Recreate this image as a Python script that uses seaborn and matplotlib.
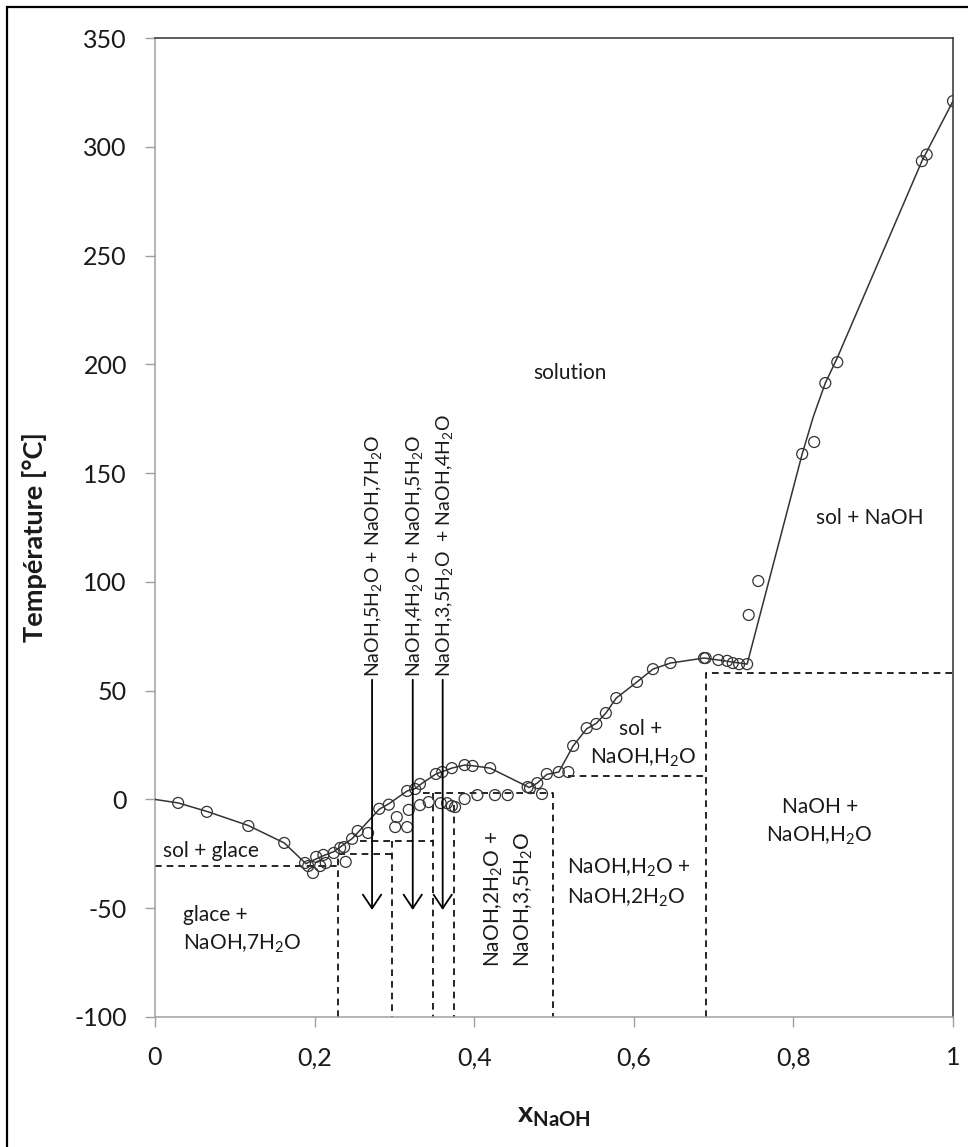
import matplotlib
matplotlib.use("Agg")
import matplotlib.pyplot as plt
from matplotlib.patches import Rectangle
import seaborn as sns
import pandas as pd

# Measured points: composition (mole fraction NaOH) and temperature (°C)
point_x = [0.029, 0.065, 0.117, 0.162,
           0.188, 0.192, 0.198, 0.202, 0.207, 0.211, 0.214, 0.224, 0.232, 0.237,
           0.239, 0.247, 0.254, 0.267, 0.281, 0.293, 0.303, 0.301, 0.316, 0.318,
           0.316, 0.326, 0.332, 0.332, 0.343, 0.352, 0.360, 0.358, 0.366, 0.372,
           0.372, 0.376, 0.388, 0.388, 0.398, 0.404, 0.420, 0.426, 0.442, 0.467,
           0.470, 0.479, 0.485, 0.491, 0.506, 0.518, 0.524, 0.541, 0.553, 0.565,
           0.578, 0.604, 0.624, 0.646, 0.688, 0.690, 0.706, 0.717, 0.724, 0.732,
           0.742, 0.744, 0.756, 0.811, 0.826, 0.840, 0.855, 0.961, 0.967, 1.000]
point_T = [-1.6, -5.7, -12.2, -20.0,
           -29.2, -30.6, -33.8, -26.4, -30.6, -25.5, -29.2, -24.6, -22.3, -21.9,
           -28.7, -18.1, -14.5, -15.4, -4.3, -2.4, -8.1, -12.7, -12.7, -4.8,
           3.9, 4.8, 7.1, -2.6, -1.2, 11.7, 12.6, -1.7, -1.7, -3.0,
           14.4, -3.5, 0.2, 15.8, 15.4, 2.0, 14.4, 2.0, 2.0, 5.7,
           5.2, 7.5, 2.5, 11.7, 12.6, 12.6, 24.6, 32.8, 34.7, 39.7,
           46.6, 54.0, 59.9, 62.7, 65.0, 65.0, 64.1, 63.7, 62.7, 62.2,
           62.2, 84.8, 100.4, 158.8, 164.3, 191.4, 201.0, 293.4, 296.4, 321.0]

# Liquidus curve
liquidus_x = [0.0, 0.029, 0.065, 0.117, 0.162, 0.189, 0.210, 0.224, 0.247, 0.256,
              0.281, 0.293, 0.316, 0.326, 0.335, 0.352, 0.372, 0.388, 0.398, 0.420,
              0.469, 0.479, 0.491, 0.506, 0.524, 0.541, 0.553, 0.565, 0.578, 0.604,
              0.624, 0.646, 0.688, 0.706, 0.742, 0.811, 0.825, 0.840, 0.855, 0.961,
              1.000]
liquidus_T = [0.0, -1.6, -5.5, -12.0, -20.0, -29.5, -26.0, -24.0, -18.0, -14.5,
              -4.5, -2.0, 3.9, 5.0, 7.5, 11.7, 14.4, 15.8, 15.5, 14.4,
              5.5, 7.5, 11.5, 12.6, 24.6, 32.5, 35.0, 39.7, 46.6, 54.0,
              59.9, 62.7, 65.0, 64.1, 62.2, 158.8, 176.0, 191.4, 203.0, 293.4,
              321.0]

# Phase boundaries (dashed): list of (compositions, temperatures)
boundaries = [
    ([0.0, 0.229], [-30.5, -30.5]),
    ([0.229, 0.229, 0.297], [-100, -25.2, -25.2]),
    ([0.257, 0.348], [-19.0, -19.0]),
    ([0.297, 0.297], [-19.0, -100]),
    ([0.336, 0.499, 0.499], [3.0, 3.0, -100]),
    ([0.348, 0.348], [3.0, -100]),
    ([0.375, 0.375], [-2.6, -100]),
    ([0.518, 0.690], [10.9, 10.9]),
    ([0.690, 0.690, 1.0], [-100, 58.0, 58.0]),
]

# Peritectic arrows: composition, label
arrow_x = [0.272, 0.323, 0.3605]
arrow_labels = ["NaOH,5H$_2$O + NaOH,7H$_2$O",
                "NaOH,4H$_2$O + NaOH,5H$_2$O",
                "NaOH,3,5H$_2$O  + NaOH,4H$_2$O"]
arrow_top = 55.0
arrow_bottom = -50.8

x_ticks = [0, 0.2, 0.4, 0.6, 0.8, 1.0]
x_tick_labels = ["0", "0,2", "0,4", "0,6", "0,8", "1"]
y_ticks = [-100, -50, 0, 50, 100, 150, 200, 250, 300, 350]

sns.set_style("white")
plt.rcParams["font.family"] = ["Lato", "DejaVu Sans"]
plt.rcParams["mathtext.fontset"] = "custom"
plt.rcParams["mathtext.rm"] = "Lato"
plt.rcParams["mathtext.bf"] = "Lato:bold"
plt.rcParams["mathtext.default"] = "rm"
plt.rcParams["axes.unicode_minus"] = False

TXT = "#1a1a1a"
fig = plt.figure(figsize=(9.68, 11.47), dpi=100)
ax = fig.add_axes([155 / 968, 130 / 1147, 798 / 968, 979 / 1147])

pts = pd.DataFrame({"x": point_x, "T": point_T})
curve = pd.DataFrame({"x": liquidus_x, "T": liquidus_T})

for bx, bT in boundaries:
    ax.plot(bx, bT, color="black", lw=1.2, ls=(0, (4, 3)), zorder=2)

sns.lineplot(data=curve, x="x", y="T", sort=False, color="#333333", lw=1.1,
             ax=ax, zorder=3)
sns.scatterplot(data=pts, x="x", y="T", marker="o", s=62, facecolor="none",
                edgecolor="#333333", linewidth=0.9, ax=ax, zorder=4)

for xa, lab in zip(arrow_x, arrow_labels):
    ax.annotate("", xy=(xa, arrow_bottom), xytext=(xa, arrow_top),
                arrowprops=dict(arrowstyle="->,head_length=0.45,head_width=0.3",
                                lw=1.3, color="black", shrinkA=0, shrinkB=0,
                                mutation_scale=22), zorder=5)
    ax.text(xa + 0.002, arrow_top + 1.5, lab, rotation=90, ha="center",
            va="bottom", fontsize=14, color=TXT)

fs = 15
ax.text(0.520, 196, "solution", ha="center", va="center", fontsize=fs, color=TXT)
ax.text(0.896, 129.3, "sol + NaOH", ha="center", va="center", fontsize=fs, color=TXT)
ax.text(0.6115, 25.5, "sol + \nNaOH,H$_2$O", ha="center", va="center",
        multialignment="center", fontsize=fs, color=TXT, linespacing=1.45)
ax.text(0.833, -10.3, "NaOH +\nNaOH,H$_2$O", ha="center", va="center",
        multialignment="center", fontsize=fs, color=TXT, linespacing=1.45)
ax.text(0.516, -38.4, "NaOH,H$_2$O +\nNaOH,2H$_2$O", ha="left", va="center",
        multialignment="left", fontsize=fs, color=TXT, linespacing=1.45)
ax.text(0.0096, -23.6, "sol + glace", ha="left", va="center", fontsize=fs, color=TXT)
ax.text(0.0347, -60, "glace +\nNaOH,7H$_2$O", ha="left", va="center",
        multialignment="left", fontsize=fs, color=TXT, linespacing=1.45)
ax.text(0.4436, -77, "NaOH,2H$_2$O +\nNaOH,3,5H$_2$O", rotation=90, ha="center",
        va="bottom", multialignment="left", fontsize=fs, color=TXT, linespacing=1.45)

ax.set_xlim(0, 1)
ax.set_ylim(-100, 350)
ax.set_xticks(x_ticks)
ax.set_xticklabels(x_tick_labels)
ax.set_yticks(y_ticks)
ax.tick_params(axis="both", which="major", direction="out", length=7.2,
               width=1.0, color="#a0a0a0", labelsize=18, labelcolor=TXT, pad=13)
ax.tick_params(axis="x", pad=14)
ax.yaxis.set_ticks_position("left")
ax.xaxis.set_ticks_position("bottom")

for side in ("left", "bottom"):
    ax.spines[side].set_color("#a0a0a0")
    ax.spines[side].set_linewidth(1.1)
for side in ("top", "right"):
    ax.spines[side].set_color("#404040")
    ax.spines[side].set_linewidth(1.2)

ax.set_xlabel(r"$\mathbf{x}_{\mathbf{NaOH}}$", fontsize=21, color=TXT)
ax.set_ylabel("Température [°C]", fontsize=19.5, fontweight="bold", color=TXT)
ax.xaxis.set_label_coords(0.5, -0.088)
ax.yaxis.set_label_coords(-0.135, 0.49)

# Outer frame of the chart area
fig.patches.append(Rectangle((7 / 968, -0.05), 1.2, 1 - 7 / 1147 + 0.05,
                             transform=fig.transFigure, fill=False,
                             edgecolor="black", lw=1.6, zorder=0))

fig.savefig("out.png", dpi=100)
